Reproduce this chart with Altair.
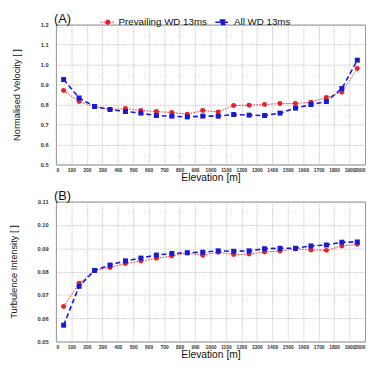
import altair as alt
import pandas as pd

elev = [50, 150, 250, 350, 450, 550, 650, 750, 850, 950, 1050, 1150, 1250, 1350, 1450, 1550, 1650, 1750, 1850, 1950]
series_names = ["Prevailing WD 13ms", "All WD 13ms"]

vel_prev = [0.870, 0.815, 0.790, 0.775, 0.780, 0.770, 0.765, 0.760, 0.752, 0.770, 0.763, 0.795, 0.797, 0.800, 0.805, 0.805, 0.812, 0.835, 0.862, 0.980]
vel_all = [0.925, 0.833, 0.790, 0.775, 0.765, 0.757, 0.745, 0.742, 0.738, 0.742, 0.742, 0.750, 0.747, 0.745, 0.757, 0.782, 0.800, 0.815, 0.880, 1.022]

ti_prev = [0.0650, 0.0750, 0.0805, 0.0818, 0.0835, 0.0845, 0.0857, 0.0867, 0.0880, 0.0870, 0.0883, 0.0873, 0.0875, 0.0884, 0.0888, 0.0897, 0.0893, 0.0891, 0.0910, 0.0917]
ti_all = [0.0570, 0.0737, 0.0805, 0.0828, 0.0846, 0.0858, 0.0871, 0.0878, 0.0881, 0.0883, 0.0889, 0.0887, 0.0889, 0.0898, 0.0900, 0.0900, 0.0910, 0.0914, 0.0926, 0.0927]

x_ticks = list(range(0, 2001, 100))
vel_ticks = [0.5, 0.6, 0.7, 0.8, 0.9, 1.0, 1.1, 1.2]
ti_ticks = [0.05, 0.06, 0.07, 0.08, 0.09, 0.10, 0.11]

FONT = "Liberation Sans"
NARROW = "Liberation Sans Narrow, Arial Narrow, Liberation Sans"
RED = "#e8202a"
BLUE = "#1a1ad0"

leg_shapes = [
    "M-1,0H1M-0.33,0a0.33,0.33 0 1,0 0.66,0a0.33,0.33 0 1,0 -0.66,0",
    "M-1,0H1M-0.3,-0.3h0.6v0.6h-0.6z",
]


def make_df(a, b):
    rows = []
    for e, v in zip(elev, a):
        rows.append({"elev": e, "val": v, "series": series_names[0]})
    for e, v in zip(elev, b):
        rows.append({"elev": e, "val": v, "series": series_names[1]})
    return pd.DataFrame(rows)


def panel(df, label, ytitle, ydom, yticks, yfmt, ylab_extent):
    x = alt.X("elev:Q", title="Elevation [m]",
              scale=alt.Scale(domain=[0, 2000], nice=False),
              axis=alt.Axis(values=x_ticks, format="d", labelOverlap=False, labelFontSize=5,
                            labelFont=NARROW, labelFontWeight="bold", titleFont=FONT,
                            titleFontSize=10.5, titleFontWeight="normal", titlePadding=0,
                            ticks=False, labelPadding=3, gridDash=[1, 1],
                            gridColor="#b0b0b0", domain=False, labelColor="#333",
                            titleColor="#111"))
    y = alt.Y("val:Q", title=ytitle,
              scale=alt.Scale(domain=ydom, nice=False, zero=False),
              axis=alt.Axis(values=yticks, format=yfmt, labelFontSize=5.8,
                            labelFont=FONT, labelFontWeight="bold", titleFont=FONT,
                            titleFontSize=9.5, titleFontWeight="normal", titlePadding=7,
                            ticks=False, labelPadding=8, gridDash=[1, 1],
                            gridColor="#b0b0b0", domain=False, labelColor="#333",
                            titleColor="#111",
                            minExtent=ylab_extent, maxExtent=ylab_extent))
    color = alt.Color("series:N", scale=alt.Scale(domain=series_names, range=[RED, BLUE]),
                      title=None,
                      legend=alt.Legend(orient="none", direction="horizontal",
                                        legendX=45, legendY=-11, title=None,
                                        labelFont=FONT, labelFontSize=10,
                                        labelColor="#111", symbolSize=225,
                                        symbolStrokeWidth=1.3, padding=0,
                                        columnPadding=4, labelOffset=3))
    shape = alt.Shape("series:N", scale=alt.Scale(domain=series_names, range=leg_shapes), title=None)
    dash = alt.StrokeDash("series:N", scale=alt.Scale(domain=series_names, range=[[1.5, 1.5], [5, 3]]),
                          title=None)
    base = alt.Chart(df)
    lines = base.mark_line().encode(
        x=x, y=y, color=color, strokeDash=dash,
        strokeWidth=alt.StrokeWidth("series:N", scale=alt.Scale(domain=series_names, range=[1.0, 1.6]), legend=None))
    circ = base.transform_filter(alt.datum.series == series_names[0]).mark_point(
        shape="circle", filled=True, size=26, opacity=1).encode(x=x, y=y, color=color)
    sq = base.transform_filter(alt.datum.series == series_names[1]).mark_point(
        shape="square", filled=True, size=26, opacity=1).encode(x=x, y=y, color=color)
    leg = base.mark_point(filled=True, size=0, opacity=1).encode(x=x, y=y, color=color, shape=shape, strokeDash=dash)
    return alt.layer(lines, leg, circ, sq).properties(
        width=316, height=143,
        title=alt.TitleParams(label, anchor="start", frame="group", font=FONT, fontSize=13,
                              fontWeight="normal", offset=-4, dx=-2, color="#111"))


top = panel(make_df(vel_prev, vel_all), "(A)", "Normalised Velocity [ ]", [0.5, 1.2], vel_ticks, ".1f", 28)
bot = panel(make_df(ti_prev, ti_all), "(B)", "Turbulence Intensity [ ]", [0.05, 0.11], ti_ticks, ".2f", 31)

chart = alt.vconcat(top, bot, spacing=6).properties(
    padding={"left": 0, "top": 0, "right": 0, "bottom": 0}
).configure_view(stroke="#8a8a8a", strokeWidth=1).configure_axis(
    gridWidth=0.8
)

chart.save("out.html", embed_options={"renderer": "svg", "actions": False})
